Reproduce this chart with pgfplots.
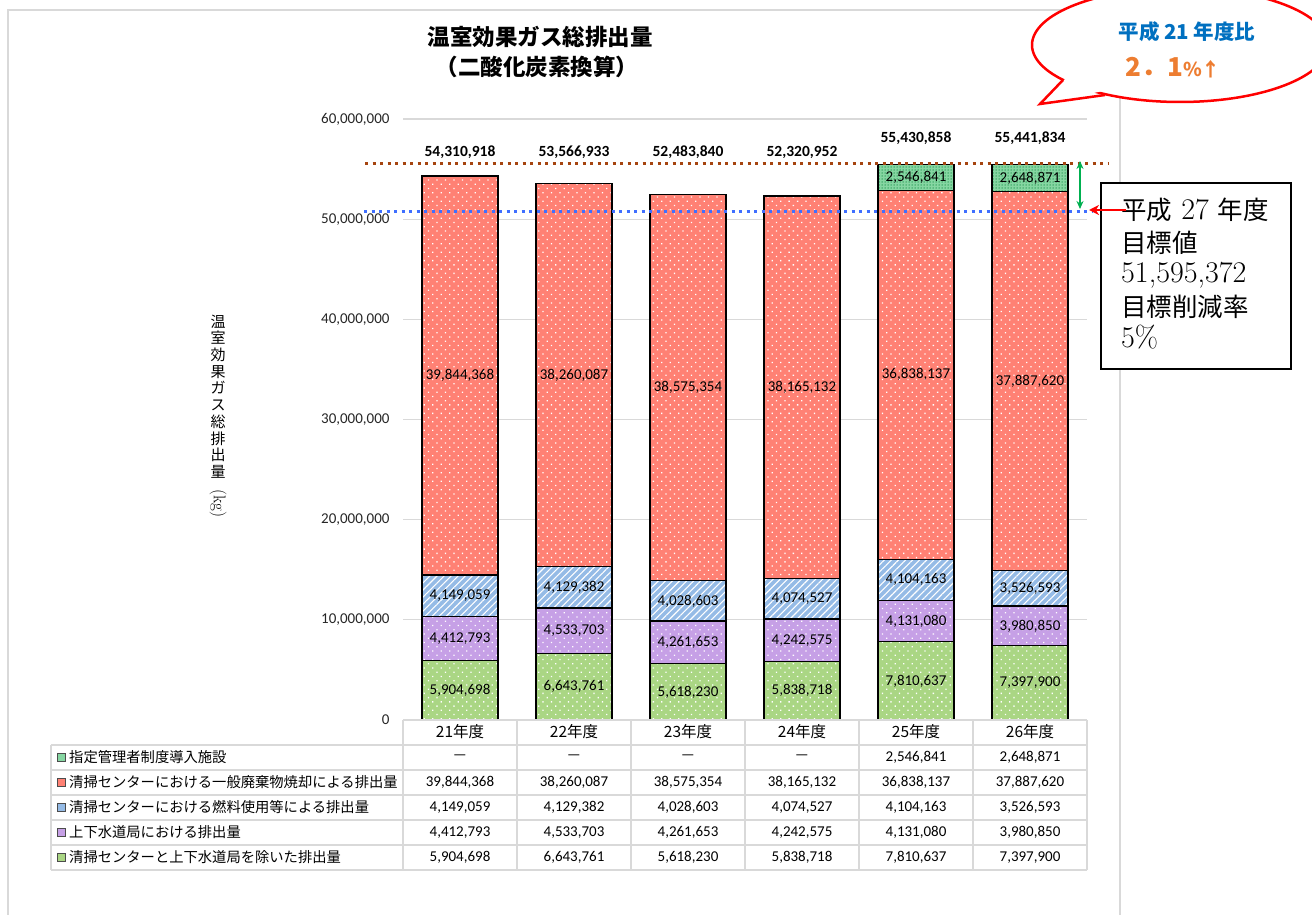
\documentclass[border=0pt]{standalone}
\usepackage{pgfplots}
\pgfplotsset{compat=1.18}
\usepackage{pgfplotstable}
\usepackage{fontspec}
\usepackage{graphicx}
\usetikzlibrary{patterns.meta,arrows.meta}
\newfontfamily\calib{Carlito}
\newfontfamily\jp{Noto Sans CJK JP}

\definecolor{cRed}{HTML}{FF8174}
\definecolor{cBlue}{HTML}{95BBE6}
\definecolor{cPur}{HTML}{C6A0E6}
\definecolor{cGrn}{HTML}{AAD684}
\definecolor{cTeal}{HTML}{86D6A2}
\definecolor{cTealD}{HTML}{2E9E5A}
\definecolor{gridc}{HTML}{D9D9D9}
\definecolor{brownl}{HTML}{A5440F}
\definecolor{bluel}{HTML}{3F6FFF}
\definecolor{ttlblue}{HTML}{0070C0}
\definecolor{orng}{HTML}{ED7D31}
\definecolor{arrg}{HTML}{00B050}

\pgfplotstableread{
x a b c d e A B C D E T H
0 5904698 4412793 4149059 39844368 0 5,904,698 4,412,793 4,149,059 39,844,368 — 54,310,918 21年度
1 6643761 4533703 4129382 38260087 0 6,643,761 4,533,703 4,129,382 38,260,087 — 53,566,933 22年度
2 5618230 4261653 4028603 38575354 0 5,618,230 4,261,653 4,028,603 38,575,354 — 52,483,840 23年度
3 5838718 4242575 4074527 38165132 0 5,838,718 4,242,575 4,074,527 38,165,132 — 52,320,952 24年度
4 7810637 4131080 4104163 36838137 2546841 7,810,637 4,131,080 4,104,163 36,838,137 2,546,841 55,430,858 25年度
5 7397900 3980850 3526593 37887620 2648871 7,397,900 3,980,850 3,526,593 37,887,620 2,648,871 55,441,834 26年度
}\data

\pgfplotsset{
  /pgf/number format/assume math mode=true,
  base/.style={at={(403pt,194pt)}, anchor=south west, scale only axis,
    width=684pt, height=601pt, xmin=-0.5, xmax=5.5, ymin=0, ymax=60000000},
  dotpat/.style={postaction={pattern={Dots[distance=6pt,angle=45,radius=0.9pt]}, pattern color=white}},
}

\begin{document}
\begin{tikzpicture}[x=1pt,y=1pt]
\useasboundingbox (0,0) rectangle (1312,914);
\clip (0,0) rectangle (1312,914);
\fill[white] (0,0) rectangle (1312,914);
% frame
\draw[gridc, line width=1.2pt] (8,-10) -- (8,904) -- (1120,904) -- (1120,-10);

% bars
\begin{axis}[base,
  ybar stacked, bar width=76pt,
  axis line style={draw=none}, tick style={draw=none},
  xtick=\empty,
  ytick={0,10000000,20000000,30000000,40000000,50000000,60000000},
  scaled y ticks=false,
  yticklabel={\pgfmathprintnumber[fixed,precision=0,1000 sep={,}]{\tick}},
  yticklabel style={font=\calib\fontsize{15}{18}\selectfont, anchor=east, xshift=-10pt, text=black!85},
  ymajorgrids, major grid style={gridc, line width=1.2pt},
]
\addplot[fill=cGrn, draw=black, line width=1.2pt, dotpat] table[x=x,y=a]{\data};
\addplot[fill=cPur, draw=black, line width=1.2pt, dotpat] table[x=x,y=b]{\data};
\addplot[fill=cBlue, draw=black, line width=1.2pt,
  postaction={pattern={Lines[angle=45,distance=5pt,line width=1.1pt]}, pattern color=white}] table[x=x,y=c]{\data};
\addplot[fill=cRed, draw=black, line width=1.2pt, dotpat] table[x=x,y=d]{\data};
\addplot[fill=cTeal, draw=black, line width=1.2pt,
  postaction={pattern={Dots[distance=3pt,radius=0.75pt]}, pattern color=cTealD}] table[x=x,y=e]{\data};
\end{axis}

% labels, reference lines, data table text
\begin{axis}[base, hide axis, clip=false,
  every node near coord/.append style={anchor=center, inner sep=0pt,
     font=\calib\fontsize{15}{18}\selectfont, text=black},
  lab/.style={draw=none, nodes near coords={\pgfplotspointmeta}, point meta=explicit symbolic},
]
\addplot[lab] table[x=x, y expr=\thisrow{a}/2, meta=A]{\data};
\addplot[lab] table[x=x, y expr=\thisrow{a}+\thisrow{b}/2, meta=B]{\data};
\addplot[lab] table[x=x, y expr=\thisrow{a}+\thisrow{b}+\thisrow{c}/2, meta=C]{\data};
\addplot[lab] table[x=x, y expr=\thisrow{a}+\thisrow{b}+\thisrow{c}+\thisrow{d}/2, meta=D]{\data};
\addplot[lab, skip coords between index={0}{4}] table[x=x, y expr=\thisrow{a}+\thisrow{b}+\thisrow{c}+\thisrow{d}+\thisrow{e}/2, meta=E]{\data};
% totals
\addplot[lab, every node near coord/.append style={font=\calib\bfseries\fontsize{15.5}{18}\selectfont}]
  table[x=x, y expr={ifthenelse(\thisrow{x}>3.5,58100000,56700000)}, meta=T]{\data};
% reference lines
\addplot[brownl, line width=3pt, dash pattern=on 3pt off 4.5pt] coordinates {(-0.833,55600000) (5.684,55600000)};
\addplot[bluel, line width=3pt, dash pattern=on 3pt off 4.5pt] coordinates {(-0.842,50720000) (5.54,50720000)};
% table text
\addplot[lab, every node near coord/.append style={font=\jp\fontsize{15.5}{18}\selectfont}]
  table[x=x, y expr=-1200000, meta=H]{\data};
\addplot[lab] table[x=x, y expr=-3744000, meta=E]{\data};
\addplot[lab] table[x=x, y expr=-6240000, meta=D]{\data};
\addplot[lab] table[x=x, y expr=-8735000, meta=C]{\data};
\addplot[lab] table[x=x, y expr=-11230000, meta=B]{\data};
\addplot[lab] table[x=x, y expr=-13727000, meta=A]{\data};
\end{axis}

% table grid
\begin{scope}[gridc, line width=1.5pt]
\draw (403,194) -- (1087,194);
\foreach \yy in {169,144,119,94,69,44} {\draw (51,\yy) -- (1087,\yy);}
\draw (51,169) -- (51,44);
\foreach \xx in {403,517,631,745,859,973,1087} {\draw (\xx,194) -- (\xx,44);}
\end{scope}
% legend rows
\begin{scope}[every node/.style={anchor=west, inner sep=0pt, font=\jp\fontsize{14.3}{16}\selectfont}]
\foreach \yy/\col/\txt in {157/cTeal/指定管理者制度導入施設,
   132/cRed/清掃センターにおける一般廃棄物焼却による排出量,
   107/cBlue/清掃センターにおける燃料使用等による排出量,
   82/cPur/上下水道局における排出量,
   57/cGrn/清掃センターと上下水道局を除いた排出量} {
  \filldraw[fill=\col, draw=black!70, line width=0.8pt] (57,\yy-4) rectangle (65,\yy+4);
  \node at (69,\yy) {\txt};
}
\end{scope}

% title
\node[font=\jp\bfseries\fontsize{22.5}{24}\selectfont] at (540,877) {温室効果ガス総排出量};
\node[font=\jp\bfseries\fontsize{22.5}{24}\selectfont] at (537,847) {（二酸化炭素換算）};

% y label
\node[font=\jp\fontsize{15}{16.7}\selectfont, align=center, inner sep=0pt] at (218,498)
  {温\\室\\効\\果\\ガ\\ス\\総\\排\\出\\量\\[-5pt]{\rmfamily\fontsize{17}{17}\selectfont\rotatebox{-90}{(kg)}}};

% speech bubble
\filldraw[fill=white, draw=red, line width=2.5pt] (1180,869) ellipse [x radius=148pt, y radius=57pt];
\fill[white] (1068,838) -- (1040,810) -- (1108,824) -- cycle;
\draw[red, line width=2.5pt, line join=miter] (1063,834) -- (1040,810) -- (1105,819);
\node[font=\jp\bfseries\fontsize{20.5}{22}\selectfont, text=ttlblue] at (1187,882) {平成 21 年度比};
\node[anchor=west, font=\jp\bfseries, text=orng] at (1122,846)
  {{\fontsize{26}{28}\selectfont 2．1}{\fontsize{19}{20}\selectfont\%↑}};

% target box
\draw[black, line width=1.8pt, fill=white] (1101,731) rectangle (1291,545);
\begin{scope}[every node/.style={anchor=west, inner sep=0pt, font=\fontsize{30}{32}\selectfont}]
\node at (1121,704) {{\jp\fontsize{25.5}{30}\selectfont 平成} 27 {\jp\fontsize{25.5}{30}\selectfont 年度}};
\node at (1121,671) {{\jp\fontsize{25.5}{30}\selectfont 目標値}};
\node at (1121,639) {51,595,372};
\node at (1121,607) {{\jp\fontsize{25.5}{30}\selectfont 目標削減率}};
\node at (1121,577) {5\%};
\end{scope}

% arrows
\draw[red, line width=2.5pt, -{Stealth[length=10pt,width=10pt]}] (1126,704) -- (1089,704);
\draw[arrg, line width=2pt, {Stealth[length=8pt,width=7pt]}-{Stealth[length=8pt,width=7pt]}] (1080,753) -- (1080,705);
\end{tikzpicture}
\end{document}
